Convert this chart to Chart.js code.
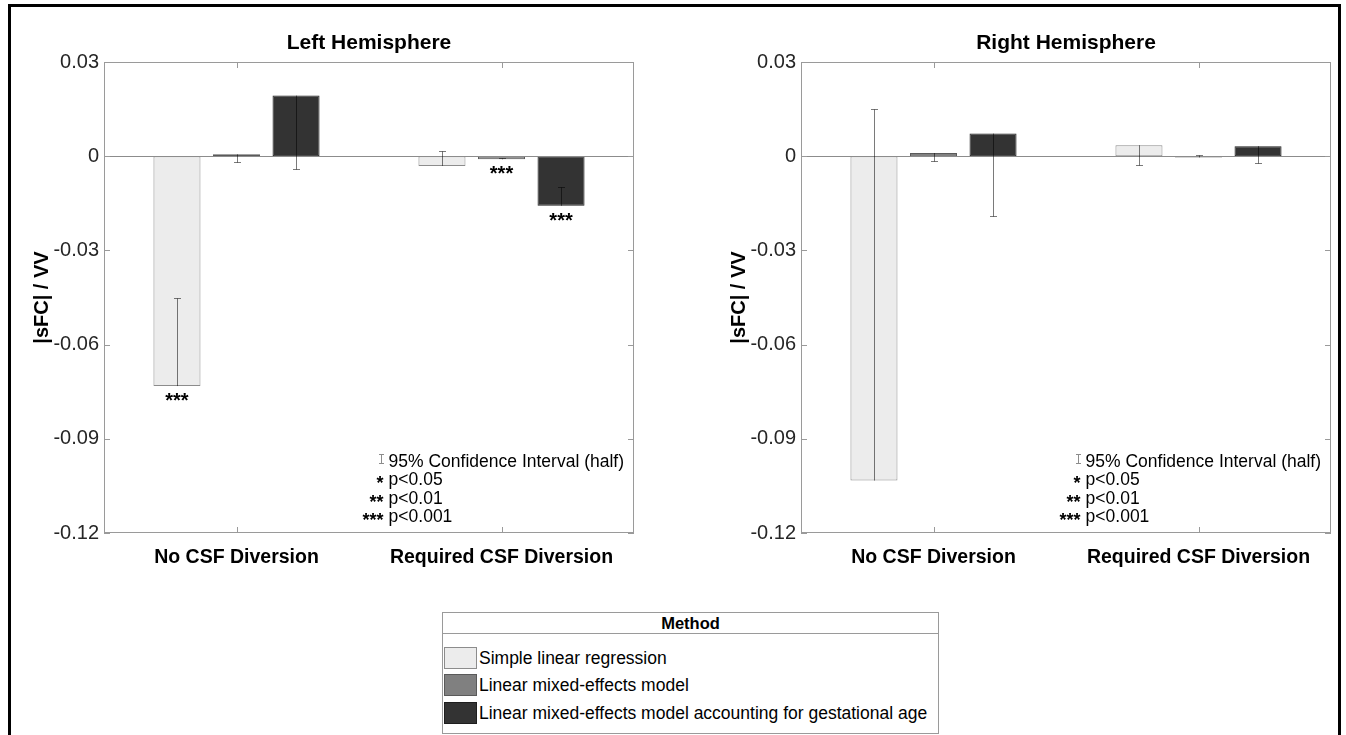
<!DOCTYPE html>
<html>
<head>
<meta charset="utf-8">
<title>sFC / VV by hemisphere</title>
<script src="https://cdn.jsdelivr.net/npm/chart.js@4.4.1/dist/chart.umd.min.js"></script>
<style>
  html, body { margin: 0; padding: 0; background: #fff; }
  body { width: 1346px; height: 735px; position: relative; overflow: hidden;
         font-family: 'Liberation Sans', Arial, sans-serif; }
  #frame { position: absolute; left: 8px; top: 4px; width: 1333px; height: 900px;
           border: 3px solid #000; box-sizing: border-box; }
  canvas { position: absolute; top: 0; }
  #cL { left: 0; }
  #cR { left: 697px; }
  #legend { position: absolute; left: 442px; top: 612px; width: 497px; height: 122px;
            border: 1px solid #9a9a9a; box-sizing: border-box; background: #fff; }
  #legTitle { position: absolute; left: 0; top: 0; width: 100%; height: 20px; line-height: 21px;
              border-bottom: 1px solid #9a9a9a; text-align: center; font-weight: bold; font-size: 16.5px; color: #000; }
  .row { position: absolute; left: 0; width: 100%; height: 28px; }
  .sw { position: absolute; left: 1px; top: 3px; width: 33px; height: 22px; box-sizing: border-box; border: 1px solid #888; }
  .lt { position: absolute; left: 36px; top: 0; line-height: 28px; font-size: 17.5px; color: #000; white-space: nowrap; }
</style>
</head>
<body>
<div id="frame"></div>
<canvas id="cL" width="649" height="600"></canvas>
<canvas id="cR" width="649" height="600"></canvas>
<div id="legend"><div id="legTitle">Method</div></div>

<script>
// ---- data ----
const categories = ['No CSF Diversion', 'Required CSF Diversion'];
const methods = ['Simple linear regression', 'Linear mixed-effects model',
                 'Linear mixed-effects model accounting for gestational age'];
const methodFill = ['#ececec', '#808080', '#333333'];
const methodEdge = ['#8c8c8c', '#5a5a5a', '#1e1e1e'];

// Left hemisphere estimates (per method, one value per category)
const leftSimple   = [-0.0732, -0.0031];
const leftMixed    = [ 0.0006, -0.0010];
const leftMixedGA  = [ 0.0193, -0.0158];
// half widths of the 95% confidence intervals
const leftSimpleCI  = [0.0281, 0.0048];
const leftMixedCI   = [0.0026, 0.0005];
const leftMixedGACI = [0.0234, 0.0060];
// significance markers
const leftSimpleSig  = ['***', ''];
const leftMixedSig   = ['', '***'];
const leftMixedGASig = ['', '***'];

// Right hemisphere
const rightSimple   = [-0.1033,  0.0035];
const rightMixed    = [ 0.0010, -0.0004];
const rightMixedGA  = [ 0.0072,  0.0032];
const rightSimpleCI  = [0.1182, 0.0062];
const rightMixedCI   = [0.0026, 0.0008];
const rightMixedGACI = [0.0262, 0.0054];
const rightSimpleSig  = ['', ''];
const rightMixedSig   = ['', ''];
const rightMixedGASig = ['', ''];

const yTickValues = [-0.12, -0.09, -0.06, -0.03, 0, 0.03];
const yTickLabels = ['-0.12', '-0.09', '-0.06', '-0.03', '0', '0.03'];

const keyMarks = ['', '*', '**', '***'];
const keyTexts = ['95% Confidence Interval (half)', 'p<0.05', 'p<0.01', 'p<0.001'];

const FONT = "'Liberation Sans', Arial, sans-serif";
Chart.defaults.font.family = FONT;

// ---- plugins ----
// zero baseline, half confidence intervals (drawn toward zero) and significance stars
const barMarks = {
  id: 'barMarks',
  afterDatasetsDraw(chart) {
    const { ctx, chartArea: a, scales: { y } } = chart;
    ctx.save();
    ctx.lineWidth = 1;
    const y0 = Math.round(y.getPixelForValue(0)) + 0.5;
    ctx.strokeStyle = '#8c8c8c';
    ctx.beginPath(); ctx.moveTo(a.left, y0); ctx.lineTo(a.right, y0); ctx.stroke();

    chart.data.datasets.forEach((ds, i) => {
      const meta = chart.getDatasetMeta(i);
      meta.data.forEach((bar, j) => {
        const v = ds.data[j];
        const end = v - Math.sign(v) * ds.ci[j];
        const x = Math.round(bar.x) + 0.5;
        const yv = y.getPixelForValue(v);
        const ye = Math.round(y.getPixelForValue(end)) + 0.5;
        ctx.strokeStyle = 'rgba(0,0,0,0.52)';
        ctx.beginPath();
        ctx.moveTo(x, yv); ctx.lineTo(x, ye);
        ctx.moveTo(x - 3.5, ye); ctx.lineTo(x + 3.5, ye);
        ctx.stroke();

        const s = ds.sig[j];
        if (s) {
          ctx.fillStyle = '#000';
          ctx.font = 'bold 20px ' + FONT;
          ctx.textAlign = 'center';
          ctx.textBaseline = 'alphabetic';
          const base = v < 0 ? yv + 21 : yv - 3;
          ctx.fillText(s, bar.x, base);
        }
      });
    });
    ctx.restore();
  },
  afterDraw(chart) {
    const { ctx, chartArea: a, scales: { x, y } } = chart;
    ctx.save();
    // axes box with inward ticks
    ctx.strokeStyle = '#9a9a9a';
    ctx.lineWidth = 1;
    ctx.strokeRect(a.left + 0.5, a.top + 0.5, a.right - a.left - 1, a.bottom - a.top - 1);
    ctx.beginPath();
    yTickValues.forEach(v => {
      const py = Math.round(y.getPixelForValue(v)) + 0.5;
      ctx.moveTo(a.left, py); ctx.lineTo(a.left + 6, py);
      ctx.moveTo(a.right - 6, py); ctx.lineTo(a.right, py);
    });
    categories.forEach((c, i) => {
      const px = Math.round(x.getPixelForValue(i)) + 0.5;
      ctx.moveTo(px, a.bottom); ctx.lineTo(px, a.bottom - 6);
      ctx.moveTo(px, a.top); ctx.lineTo(px, a.top + 6);
    });
    ctx.stroke();

    // key for error bars and significance levels
    ctx.font = '17.5px ' + FONT;
    ctx.textBaseline = 'alphabetic';
    const w = ctx.measureText(keyTexts[0]).width;
    const x0 = a.right - 10 - w;
    const base0 = a.bottom - 66;
    keyTexts.forEach((t, i) => {
      const b = base0 + i * 18.3;
      ctx.fillStyle = '#000';
      ctx.textAlign = 'left';
      ctx.font = '17.5px ' + FONT;
      ctx.fillText(t, x0, b);
      if (keyMarks[i]) {
        ctx.textAlign = 'right';
        ctx.font = 'bold 18px ' + FONT;
        ctx.fillText(keyMarks[i], x0 - 5, b + 4);
      }
    });
    const gx = Math.round(x0 - 8) + 0.5;
    ctx.strokeStyle = '#8c8c8c';
    ctx.beginPath();
    ctx.moveTo(gx, base0 - 13); ctx.lineTo(gx, base0 - 3);
    ctx.moveTo(gx - 2.5, base0 - 12.5); ctx.lineTo(gx + 2.5, base0 - 12.5);
    ctx.moveTo(gx - 2.5, base0 - 3.5); ctx.lineTo(gx + 2.5, base0 - 3.5);
    ctx.stroke();
    ctx.restore();
  }
};

function makeDatasets(vals, cis, sigs) {
  return vals.map((d, k) => ({
    label: methods[k],
    data: d,
    ci: cis[k],
    sig: sigs[k],
    backgroundColor: methodFill[k],
    borderColor: methodEdge[k],
    borderWidth: 1,
    borderSkipped: false,
    barPercentage: 0.79,
    categoryPercentage: 0.674
  }));
}

function makeChart(id, title, datasets, rightPad) {
  return new Chart(document.getElementById(id), {
    type: 'bar',
    data: { labels: categories, datasets },
    options: {
      responsive: false,
      animation: false,
      layout: { padding: { left: 0, right: rightPad, top: 0, bottom: 0 } },
      plugins: {
        legend: { display: false },
        tooltip: { enabled: false },
        title: {
          display: true, text: title, fullSize: false, color: '#000',
          font: { size: 21, weight: 'bold' },
          padding: { top: 31, bottom: 5.8 }
        }
      },
      scales: {
        x: {
          offset: true,
          grid: { display: false, drawTicks: false },
          border: { display: false },
          ticks: { color: '#000', font: { size: 19.5, weight: 'bold' }, padding: 13, maxRotation: 0, autoSkip: false },
          afterFit: s => { s.height = 67; }
        },
        y: {
          min: -0.12, max: 0.03,
          grid: { display: false, drawTicks: false },
          border: { display: false },
          afterBuildTicks: s => { s.ticks = yTickValues.map(v => ({ value: v })); },
          ticks: {
            color: '#262626', font: { size: 20 }, padding: 5, autoSkip: false,
            callback: v => yTickLabels[yTickValues.indexOf(v)]
          },
          title: {
            display: true, text: '|sFC| / VV', color: '#000',
            font: { size: 20, weight: 'bold' },
            padding: { top: 30, bottom: 0 }
          },
          afterFit: s => { s.width = 104; }
        }
      }
    },
    plugins: [barMarks]
  });
}

makeChart('cL', 'Left Hemisphere',
  makeDatasets([leftSimple, leftMixed, leftMixedGA],
               [leftSimpleCI, leftMixedCI, leftMixedGACI],
               [leftSimpleSig, leftMixedSig, leftMixedGASig]), 15);

makeChart('cR', 'Right Hemisphere',
  makeDatasets([rightSimple, rightMixed, rightMixedGA],
               [rightSimpleCI, rightMixedCI, rightMixedGACI],
               [rightSimpleSig, rightMixedSig, rightMixedGASig]), 15);

// method legend
const legend = document.getElementById('legend');
const rowCenters = [44.5, 72.3, 100.3];
methods.forEach((m, k) => {
  const row = document.createElement('div');
  row.className = 'row';
  row.style.top = (rowCenters[k] - 14) + 'px';
  const sw = document.createElement('div');
  sw.className = 'sw';
  sw.style.background = methodFill[k];
  sw.style.borderColor = methodEdge[k];
  const lt = document.createElement('div');
  lt.className = 'lt';
  lt.textContent = m;
  row.appendChild(sw);
  row.appendChild(lt);
  legend.appendChild(row);
});
</script>
</body>
</html>
